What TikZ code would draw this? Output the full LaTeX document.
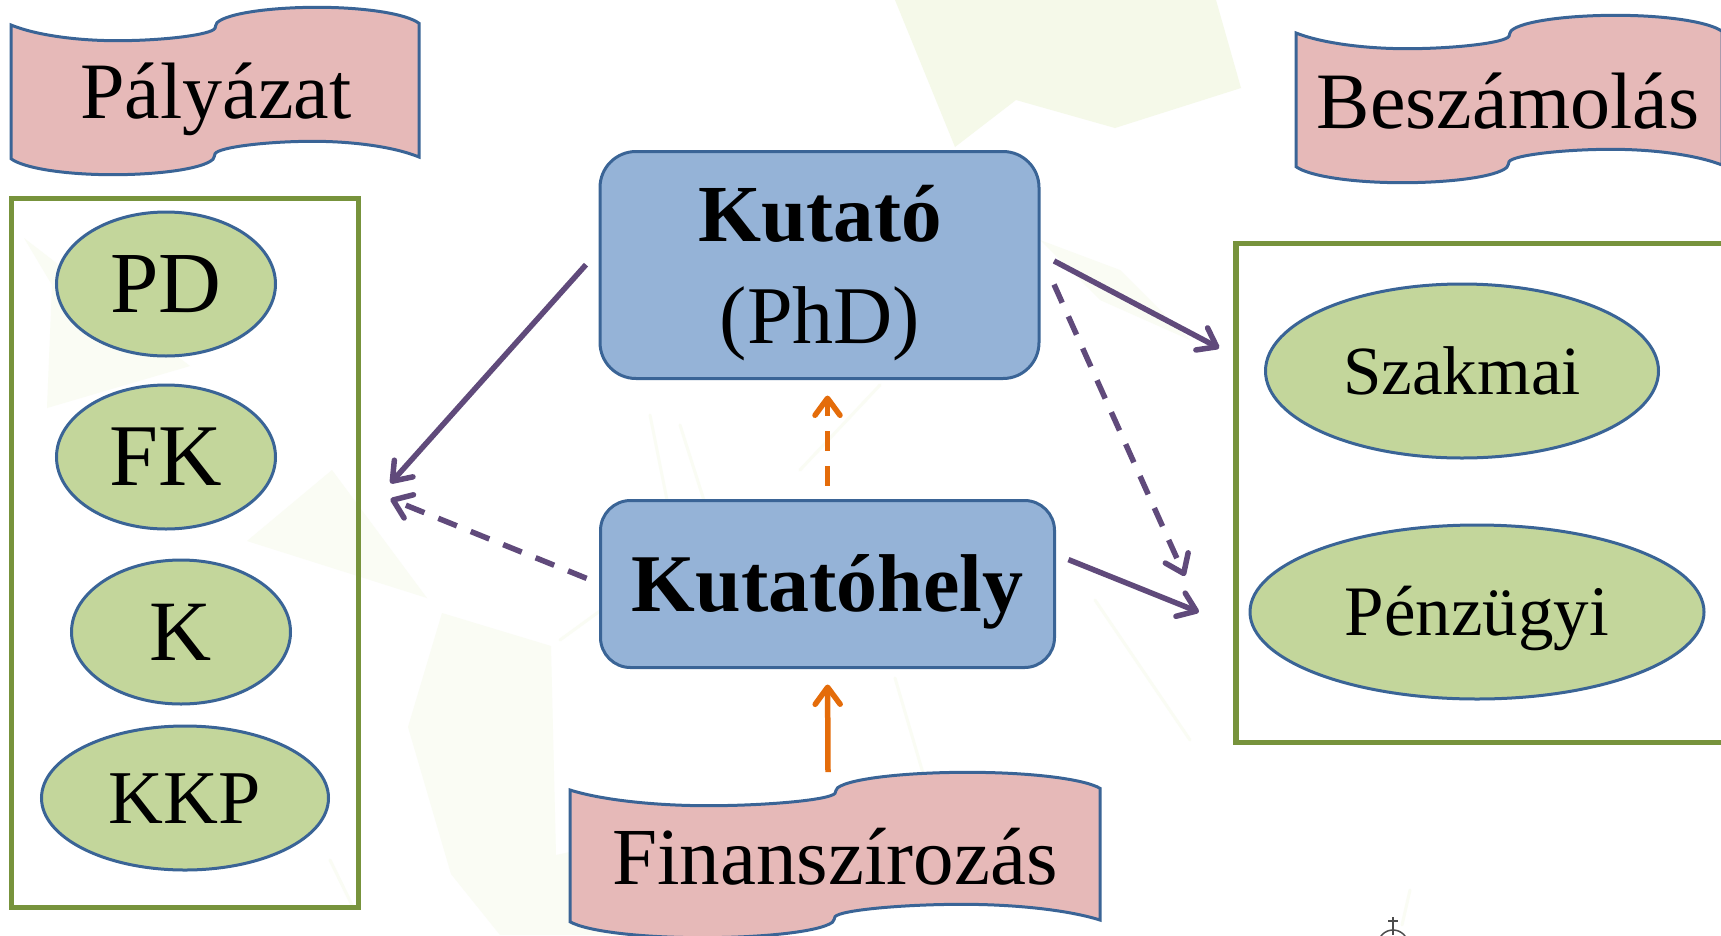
\documentclass[tikz,border=0pt]{standalone}
\usepackage{fontspec}
\setmainfont{Liberation Serif}
\usetikzlibrary{arrows.meta,shapes.geometric,calc}
\definecolor{bannerfill}{HTML}{E6B9B8}
\definecolor{boxfill}{HTML}{95B3D7}
\definecolor{ovalfill}{HTML}{C3D69B}
\definecolor{edgeblue}{HTML}{3A6496}
\definecolor{groupgreen}{HTML}{77933C}
\definecolor{arrowpurple}{HTML}{604A7B}
\definecolor{arroworange}{HTML}{E46C0A}
\definecolor{faint}{HTML}{F5F9E9}
\definecolor{fainter}{HTML}{FAFCF4}
\newcommand{\fsz}[1]{\fontsize{#1}{#1}\selectfont}
\newcommand{\wavebanner}[4]{%
  \begin{scope}[shift={(#1,#2)}]
  \path[draw=edgeblue,fill=bannerfill,line width=3pt,line join=miter]
    (0,0) .. controls ({.06*#3},10) and ({.16*#3},15.7) .. ({.26*#3},15.7)
    .. controls ({.37*#3},15.7) and ({.49*#3},10) .. ({.5*#3},3.3)
    .. controls ({.503*#3},1) and ({.5*#3},0) .. ({.505*#3},-2.3)
    .. controls ({.53*#3},-12) and ({.64*#3},-17.7) .. ({.75*#3},-17.7)
    .. controls ({.87*#3},-17.7) and ({.97*#3},-11) .. ({#3},-1.7)
    -- ({#3},#4)
    .. controls ({.94*#3},{#4-10}) and ({.84*#3},{#4-15.7}) .. ({.74*#3},{#4-15.7})
    .. controls ({.63*#3},{#4-15.7}) and ({.51*#3},{#4-10}) .. ({.5*#3},{#4-3.3})
    .. controls ({.497*#3},{#4-1}) and ({.5*#3},{#4}) .. ({.495*#3},{#4+2.3})
    .. controls ({.47*#3},{#4+12}) and ({.36*#3},{#4+17.7}) .. ({.25*#3},{#4+17.7})
    .. controls ({.13*#3},{#4+17.7}) and ({.03*#3},{#4+11}) .. (0,{#4+1.7})
    -- cycle;
  \end{scope}}
\tikzset{
  x=1pt,y=-1pt,
  bannertext/.style={anchor=base,inner sep=0pt,text=black},
  oval/.style={ellipse,draw=edgeblue,fill=ovalfill,line width=3pt,inner sep=0pt,outer sep=0pt,text depth=0pt},
  roundbox/.style={rectangle,draw=edgeblue,fill=boxfill,line width=3pt,inner sep=0pt,outer sep=0pt},
  groupbox/.style={rectangle,draw=groupgreen,line width=5.5pt,inner sep=0pt,outer sep=0pt},
  link/.style={line width=5.5pt,-{Straight Barb[length=17pt,width=25pt,line width=5.5pt,round]}},
  linkdash/.style={link,dash pattern=on 20pt off 15pt},
  purple link/.style={link,draw=arrowpurple},
  purple dash/.style={linkdash,draw=arrowpurple},
  orange link/.style={link,draw=arroworange},
  orange dash/.style={linkdash,draw=arroworange},
  bgline/.style={draw=fainter,line width=3pt,line cap=round},
}
\begin{document}
\begin{tikzpicture}
\useasboundingbox[fill=white] (0,0) rectangle (1721,935);
% faint background network
\fill[faint] (895,0) -- (955,147) -- (1016,100) -- (1115,128) -- (1241,88) -- (1216,0) -- cycle;
\fill[fainter] (1040,240) -- (1120,270) -- (1190,340) -- (1100,300) -- cycle;
\fill[fainter] (47,408) -- (52,285) -- (24,238) -- (190,366) -- cycle;
\fill[fainter] (332,470) -- (247,541) -- (427,598) -- cycle;
\fill[fainter] (442,613) -- (551,646) -- (556,855) -- (689,826) -- (700,935) -- (500,935) -- (451,874) -- (408,727) -- cycle;
\draw[bgline] (635,225) -- (660,370);
\draw[bgline] (680,425) -- (715,535);
\draw[bgline] (650,415) -- (668,505);
\draw[bgline] (560,640) -- (615,600);
\draw[bgline] (1095,600) -- (1190,740);
\draw[bgline] (895,678) -- (925,780);
\draw[bgline] (800,470) -- (880,385);
\draw[bgline] (1410,890) -- (1402,925);
\draw[bgline] (330,860) -- (352,905);
% emblem fragment
\draw[black!70,line width=1.5pt] (1393,945) circle (15);
\draw[black!70,line width=1.5pt] (1393,917) -- (1393,930) (1388,921) -- (1398,921) (1393,930) -- (1393,935);
% banners
\wavebanner{11}{25}{408}{132}
\node[bannertext,font=\fsz{80}] (palyazat) at (216,118) {Pályázat};
\wavebanner{1296}{33}{426}{132}
\node[bannertext,font=\fsz{80}] (beszamolas) at (1508,128) {Beszámolás};
\wavebanner{570}{790}{530}{130}
\node[bannertext,font=\fsz{81}] (finansz) at (835,884) {Finanszírozás};
% groups
\node[groupbox,minimum width=347pt,minimum height=709pt] (pgroup) at (185,553) {};
\node[groupbox,minimum width=489pt,minimum height=499pt] (bgroup) at (1480.5,493) {};
% ovals
\node[oval,minimum width=219pt,minimum height=144pt,text height=57pt,font=\fsz{87}] (pd) at (166,284) {PD};
\node[oval,minimum width=219pt,minimum height=144pt,text height=57pt,font=\fsz{88}] (fk) at (166,457) {FK};
\node[oval,minimum width=219pt,minimum height=144pt,text height=57pt,font=\fsz{86}] (k) at (181,632) {K};
\node[oval,minimum width=287pt,minimum height=144pt,text height=50pt,font=\fsz{76}] (kkp) at (185,798) {KKP};
\node[oval,minimum width=393pt,minimum height=174pt,text height=46pt,font=\fsz{69}] (szakmai) at (1462,371) {Szakmai};
\node[oval,minimum width=454pt,minimum height=174pt,text height=47pt,font=\fsz{71}] (penzugyi) at (1477,612) {Pénzügyi};
% central boxes
\node[roundbox,rounded corners=36pt,minimum width=439pt,minimum height=227pt] (kutato) at (819.5,265) {};
\node[bannertext,font=\bfseries\fsz{81}] (kutatoname) at (820,241.5) {Kutató};
\node[bannertext,font=\fsz{82}] (kutatophd) at (820,343.5) {(PhD)};
\node[roundbox,rounded corners=30pt,minimum width=454pt,minimum height=167pt,text height=54pt,text depth=0pt,font=\bfseries\fsz{82}] (kh) at (827.5,584) {Kutatóhely};
% connector ends
\coordinate (a1s) at (kutato.west |- 0,249);
\coordinate (a1e) at (pgroup.east |- 0,519);
\coordinate (a2s) at (kh.west |- 0,584);
\coordinate (a2e) at (pgroup.east |- 0,486);
\coordinate (a3s) at (kutato.east |- 0,253);
\coordinate (a3e) at (bgroup.west |- 0,357);
\coordinate (a4s) at (kutato.east |- 0,251);
\coordinate (a4e) at (bgroup.west |- 0,690);
\coordinate (a5s) at (kh.east |- 0,554);
\coordinate (a5e) at (bgroup.west |- 0,627);
\coordinate (fintop) at (828,772);
\draw[purple link,shorten <=21pt,shorten >=48pt] (a1s) -- (a1e);
\draw[purple dash,shorten <=15pt,shorten >=34.5pt] (a2s) -- (a2e);
\draw[purple link,shorten <=17pt,shorten >=19pt] (a3s) -- (a3e);
\draw[purple dash,shorten <=36.7pt,shorten >=125pt] (a4s) -- (a4e);
\draw[purple link,shorten <=15pt,shorten >=40pt] (a5s) -- (a5e);
\draw[orange dash,shorten <=15pt,shorten >=17pt] (kh.north) -- (kh.north |- kutato.south);
\draw[orange link,shorten >=17pt] (fintop) -- (kh.south);
\end{tikzpicture}
\end{document}
